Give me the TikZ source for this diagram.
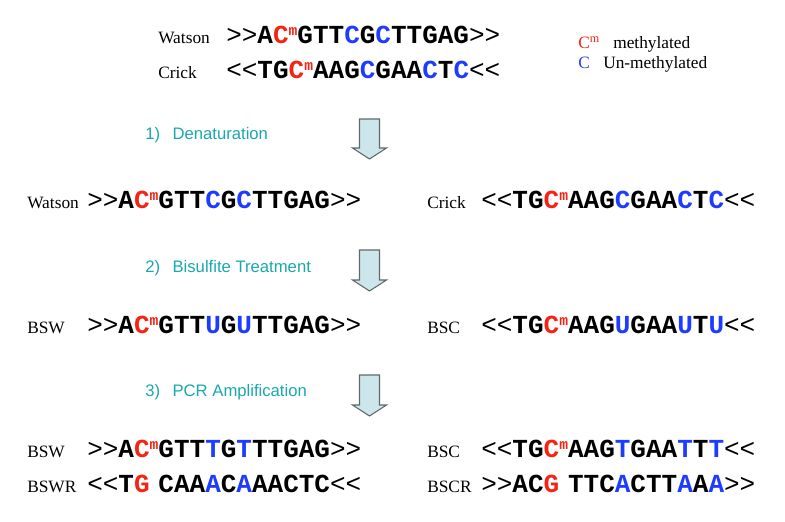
\documentclass[tikz,border=0pt]{standalone}
\usepackage{fontspec}
\setmainfont{Liberation Serif}
\newfontfamily\seqfont{Liberation Mono}
\newfontfamily\stepfont{Liberation Sans}
\usetikzlibrary{positioning}
\definecolor{methred}{RGB}{245,35,20}
\definecolor{unblue}{RGB}{30,60,255}
\definecolor{steptext}{RGB}{25,168,172}
\definecolor{arrowfill}{RGB}{205,230,235}
\definecolor{arrowline}{RGB}{95,105,105}
\newcommand{\fw}{\textmd{>{}>}}
\newcommand{\rv}{\textmd{<{}<}}
\newcommand{\msup}{\raisebox{5.5pt}{\fontsize{11}{11}\selectfont m}}
\newcommand{\mC}{\textcolor{methred}{C\msup}}
\newcommand{\uC}[1]{\textcolor{unblue}{#1}}
\tikzset{
	strand/.style={anchor=base west, inner sep=0pt,
			font=\seqfont\bfseries\fontsize{19.5}{20}\selectfont},
	strandname/.style={anchor=base west, inner sep=0pt,
			font=\fontsize{13}{14}\selectfont},
	steplabel/.style={anchor=base west, inner sep=0pt, text=steptext,
			font=\stepfont\fontsize{12.5}{14}\selectfont},
	blockarrow/.style={draw=arrowline, fill=arrowfill, line width=0.8pt}
}

\begin{document}
\begin{tikzpicture}[x=0.75pt, y=-0.75pt]
\useasboundingbox (0,0) rectangle (785,521);
% Double strand
\node[strandname] (watson) at (158,43) {Watson};
\node[strand] (watsonseq) at (226,43) {\fw A\mC GTT\uC{C}G\uC{C}TTGAG\fw};
\node[strandname] (crick) at (158,78) {Crick};
\node[strand] (crickseq) at (226,78) {\rv TG\mC AAG\uC{C}GAA\uC{C}T\uC{C}\rv};
% Key
\node[strandname, text=methred] (keymeth) at (578,48) {C\textsuperscript{m}};
\node[strandname] (keymethtext) at (613,48) {methylated};
\node[strandname, text=unblue] (keyun) at (578,68) {C};
\node[strandname] (keyuntext) at (603,68) {Un-methylated};
% Steps
\node[steplabel] (denature) at (145,139) {1)\hspace{0.75em}Denaturation};
\node[steplabel] (bisulfite) at (145,272) {2)\hspace{0.75em}Bisulfite Treatment};
\node[steplabel] (pcr) at (145,396) {3)\hspace{0.75em}PCR Amplification};
\foreach \t/\h in {119/148, 250/280, 375/405} {
\draw[blockarrow] (359.5,\t) -- (379.5,\t) -- (379.5,\h) -- (386.5,\h)
  -- (369.5,\h+11) -- (352.5,\h) -- (359.5,\h) -- cycle;
}
% Single strands
\node[strandname] (watson1) at (27,208) {Watson};
\node[strand] (watsonseq1) at (87,208) {\fw A\mC GTT\uC{C}G\uC{C}TTGAG\fw};
\node[strandname] (crick1) at (427,208) {Crick};
\node[strand] (crickseq1) at (481,208) {\rv TG\mC AAG\uC{C}GAA\uC{C}T\uC{C}\rv};
% After bisulfite
\node[strandname] (bsw) at (27,333) {BSW};
\node[strand] (bswseq) at (87,333) {\fw A\mC GTT\uC{U}G\uC{U}TTGAG\fw};
\node[strandname] (bsc) at (427,333) {BSC};
\node[strand] (bscseq) at (481,333) {\rv TG\mC AAG\uC{U}GAA\uC{U}T\uC{U}\rv};
% After PCR
\node[strandname] (bsw2) at (27,457) {BSW};
\node[strand] (bswseq2) at (87,457) {\fw A\mC GTT\uC{T}G\uC{T}TTGAG\fw};
\node[strandname] (bswr) at (27,492) {BSWR};
\node[strand] (bswrseq) at (87,492) {\rv T\textcolor{methred}{G}\phantom{\msup}CAA\uC{A}C\uC{A}AACTC\rv};
\node[strandname] (bsc2) at (427,457) {BSC};
\node[strand] (bscseq2) at (481,457) {\rv TG\mC AAG\uC{T}GAA\uC{T}T\uC{T}\rv};
\node[strandname] (bscr) at (427,492) {BSCR};
\node[strand] (bscrseq) at (481,492) {\fw AC\textcolor{methred}{G}\phantom{\msup}TTC\uC{A}CTT\uC{A}A\uC{A}\fw};
\end{tikzpicture}
\end{document}
